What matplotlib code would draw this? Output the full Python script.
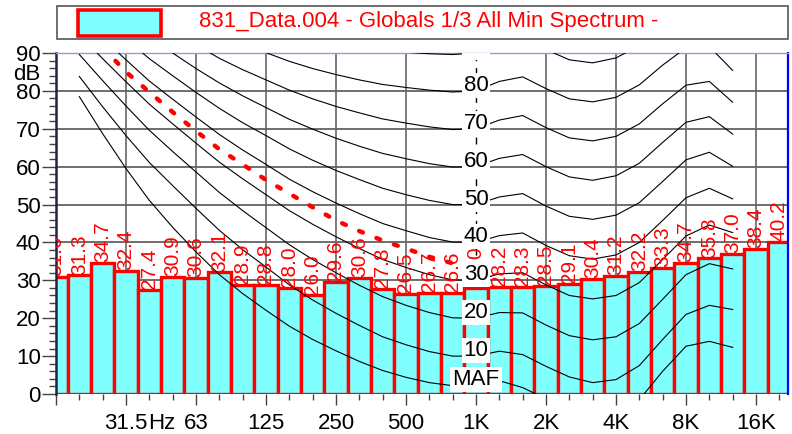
import numpy as np
import matplotlib
matplotlib.use("Agg")
import matplotlib.pyplot as plt
from matplotlib.patches import Rectangle
from matplotlib import font_manager
from matplotlib.ticker import FixedLocator, MultipleLocator, NullFormatter

# 1/3 octave spectrum (nominal band centre, dB)
band_freqs = [16, 20, 25, 31.5, 40, 50, 63, 80, 100, 125, 160, 200, 250, 315,
              400, 500, 630, 800, 1000, 1250, 1600, 2000, 2500, 3150, 4000,
              5000, 6300, 8000, 10000, 12500, 16000, 20000]
band_levels = [31.0, 31.3, 34.7, 32.4, 27.4, 30.9, 30.6, 32.1, 28.9, 28.8,
               28.0, 26.0, 29.6, 30.6, 27.8, 26.5, 26.7, 26.6, 28.0, 28.2,
               28.3, 28.5, 29.1, 30.4, 31.2, 32.2, 33.3, 34.7, 35.8, 37.0,
               38.4, 40.2]

# equal loudness contours
contour_freqs = [20, 25, 31.5, 40, 50, 63, 80, 100, 125, 160, 200, 250, 315,
                 400, 500, 630, 800, 1000, 1250, 1600, 2000, 2500, 3150, 4000,
                 5000, 6300, 8000, 10000, 12500]
maf = [78.5, 68.7, 59.5, 51.1, 44.0, 37.5, 31.5, 26.5, 22.1, 17.9, 14.4, 11.4,
       8.6, 6.2, 4.4, 3.0, 2.2, 2.4, 3.5, 1.7, -1.3, -4.2, -6.0, -5.4, -1.5,
       6.0, 12.6, 13.9, 12.3]
phon10 = [83.8, 75.8, 68.2, 61.1, 55.0, 49.0, 43.2, 38.1, 33.5, 28.8, 24.8,
          21.3, 18.1, 15.1, 13.0, 11.2, 10.0, 10.0, 11.3, 10.4, 7.3, 4.5, 3.0,
          3.8, 7.5, 14.4, 21.0, 23.4, 22.3]
phon20 = [89.6, 82.7, 76.0, 69.6, 64.0, 58.6, 53.2, 48.4, 43.9, 39.4, 35.5,
          32.0, 28.7, 25.7, 23.4, 21.5, 20.1, 20.0, 21.5, 21.4, 18.2, 15.4,
          14.3, 15.1, 18.6, 25.0, 31.5, 34.4, 33.0]
phon30 = [94.9, 88.5, 82.4, 76.5, 71.3, 66.2, 61.2, 56.8, 52.6, 48.4, 44.8,
          41.5, 38.4, 35.5, 33.4, 31.5, 30.1, 30.0, 31.7, 32.0, 28.8, 26.0,
          25.1, 26.0, 29.4, 35.5, 41.7, 44.6, 42.6]
phon40 = [99.9, 93.9, 88.2, 82.6, 77.8, 73.1, 68.5, 64.4, 60.6, 56.7, 53.4,
          50.4, 47.6, 45.0, 43.1, 41.3, 40.1, 40.0, 41.8, 42.5, 39.2, 36.5,
          35.6, 36.7, 40.0, 45.8, 51.8, 54.3, 51.5]
phon50 = [104.7, 99.2, 93.7, 88.5, 84.0, 79.6, 75.4, 71.6, 68.2, 64.7, 61.7,
          59.0, 56.6, 54.3, 52.6, 51.1, 50.0, 50.0, 52.0, 52.9, 49.6, 46.9,
          46.1, 47.2, 50.5, 56.1, 61.8, 63.8, 60.1]
phon60 = [109.5, 104.2, 99.1, 94.2, 90.0, 85.9, 82.1, 78.7, 75.6, 72.5, 69.9,
          67.5, 65.4, 63.5, 62.1, 60.8, 59.9, 60.0, 62.2, 63.2, 60.0, 57.3,
          56.4, 57.6, 60.9, 66.4, 71.7, 73.2, 68.6]
phon70 = [114.3, 109.3, 104.4, 99.8, 95.9, 92.2, 88.6, 85.6, 82.9, 80.2, 77.9,
          75.9, 74.2, 72.6, 71.5, 70.5, 69.8, 70.0, 72.3, 73.5, 70.3, 67.6,
          66.8, 68.0, 71.3, 76.6, 81.5, 82.5, 77.0]
phon80 = [119.0, 114.2, 109.7, 105.3, 101.7, 98.4, 95.2, 92.5, 90.1, 87.8,
          85.9, 84.3, 82.9, 81.7, 80.9, 80.2, 79.7, 80.0, 82.5, 83.7, 80.6,
          77.9, 77.1, 78.3, 81.6, 86.8, 91.4, 91.7, 85.4]
phon90 = [123.7, 119.2, 114.9, 110.9, 107.5, 104.5, 101.7, 99.3, 97.3, 95.4,
          93.9, 92.7, 91.6, 90.8, 90.2, 89.8, 89.6, 90.0, 92.7, 94.0, 90.9,
          88.2, 87.4, 88.7, 92.0, 97.0, 101.3, 101.0, 93.8]
contour_names = ["MAF", "10", "20", "30", "40", "50", "60", "70", "80", "90"]
contour_levels = [2.4, 10, 20, 30, 40, 50, 60, 70, 80, 90]

# red dotted criterion curve
crit_freqs = [25, 31.5, 40, 50, 63, 80, 100, 125, 160, 200, 250, 315, 400,
              500, 630, 800]
crit_levels = [91.5, 85.0, 79.7, 74.4, 69.4, 64.6, 60.6, 56.5, 52.9, 49.3,
               45.8, 43.0, 40.5, 38.4, 36.2, 34.5]

tick_labels = ["", "31.5", "63", "125", "250", "500", "1K", "2K", "4K", "8K", "16K"]
legend_text = "831_Data.004 - Globals 1/3 All Min Spectrum -"


def exact(freqs):
    # nominal band centre -> base-2 third octave centre
    f = np.asarray(freqs, dtype=float)
    return 1000 * 2 ** (np.round(3 * np.log2(f / 1000)) / 3)


plt.rcParams["font.family"] = ["Liberation Sans", "DejaVu Sans"]
names = {f.name for f in font_manager.fontManager.ttflist}
if "Liberation Sans Narrow" in names:
    val_family, val_size = "Liberation Sans Narrow", 17
else:
    val_family, val_size = "Liberation Sans", 15

fig = plt.figure(figsize=(7.92, 4.34), dpi=100)
ax = fig.add_axes([56 / 792, 1 - 394 / 434, 732 / 792, 341 / 434])
ax.set_xscale("log", base=2)
x_left = 1000 * 2 ** -6
ax.set_xlim(x_left, x_left * 2 ** (732 / 70))
ax.set_ylim(0, 90)

major_x = 1000 * 2 ** np.arange(-6, 5, dtype=float)

# grid
for y in range(10, 91, 10):
    ax.axhline(y, color="#555555", lw=1.2, zorder=0.5)
for xv in major_x[1:]:
    if xv == 1000:
        continue
    ax.axvline(xv, color="#666666", lw=1.2, zorder=0.5)
ax.axvline(1000, color="black", lw=1.0, dashes=(5, 5), zorder=1)

# bars
centers = exact(band_freqs)
lo = centers * 2 ** (-1 / 6)
hi = centers * 2 ** (1 / 6)
ax.bar(lo, band_levels, width=hi - lo, align="edge", color="#80ffff",
       edgecolor="#ff0000", linewidth=2.4, zorder=2)

# contours
cf = exact(contour_freqs)
for vals in [maf, phon10, phon20, phon30, phon40, phon50, phon60, phon70,
             phon80, phon90]:
    ax.plot(cf, vals, color="black", lw=0.8, zorder=3)

# criterion curve
ax.plot(exact(crit_freqs), crit_levels, color="#ff0000", lw=3.2,
        dashes=(0.9, 3.3), dash_capstyle="round", zorder=3.5)

# bar values
for c, v in zip(centers, band_levels):
    ax.text(c, v + 0.2, f"{v:.1f}", rotation=90, ha="center", va="bottom",
            color="#ff0000", fontsize=val_size, family=val_family,
            zorder=4, clip_on=True)

# contour labels at 1 kHz
for name, lev in zip(contour_names, contour_levels):
    ax.text(1000, lev, name, ha="center", va="baseline", fontsize=16,
            bbox=dict(fc="white", ec="none", pad=1.5), zorder=5, clip_on=True)

# axes styling
ax.xaxis.set_major_locator(FixedLocator(major_x))
ax.set_xticklabels(tick_labels)
minor_x = 1000 * 2 ** (np.arange(-18, 14) / 3)
ax.xaxis.set_minor_locator(FixedLocator(minor_x))
ax.xaxis.set_minor_formatter(NullFormatter())
ax.yaxis.set_major_locator(MultipleLocator(10))
ax.yaxis.set_minor_locator(MultipleLocator(2))
ax.tick_params(axis="x", which="major", length=8, width=1, color="#444444",
               labelsize=16, pad=6)
ax.tick_params(axis="x", which="minor", length=4, width=1, color="#444444")
ax.tick_params(axis="y", which="major", length=10, width=1, color="#444444",
               labelsize=16, pad=1)
ax.tick_params(axis="y", which="minor", length=5, width=1, color="#444444")
ax.annotate("Hz", xy=(major_x[1], 0), xycoords=ax.get_xaxis_transform(),
            xytext=(15.6, -14), textcoords="offset points", ha="left",
            va="top", fontsize=16)

ax.spines["bottom"].set_visible(False)
ax.spines["left"].set_color("#222244")
ax.spines["left"].set_linewidth(1.8)
ax.spines["right"].set_color("#0000ff")
ax.spines["right"].set_linewidth(1.6)
ax.spines["top"].set_color("#9999dd")
ax.spines["top"].set_linewidth(1.0)

fig.text(27 / 792, 1 - 80 / 434, "dB", ha="center", va="baseline", fontsize=16)

# legend strip
fig.add_artist(Rectangle((57 / 792, 1 - 39 / 434), 731 / 792, 33 / 434,
                         transform=fig.transFigure, fc="white", ec="#555555",
                         lw=1.2))
fig.add_artist(Rectangle((78 / 792, 1 - 36 / 434), 83 / 792, 26 / 434,
                         transform=fig.transFigure, fc="#80ffff", ec="#ff0000",
                         lw=2.6))
fig.text(199 / 792, 1 - 22 / 434, legend_text, ha="left", va="center",
         color="#ff0000", fontsize=16)
fig.text(577 / 792, 1 - 5 / 434, "Distribution", ha="center", va="bottom",
         fontsize=16)

fig.savefig("out.png", dpi=100)
